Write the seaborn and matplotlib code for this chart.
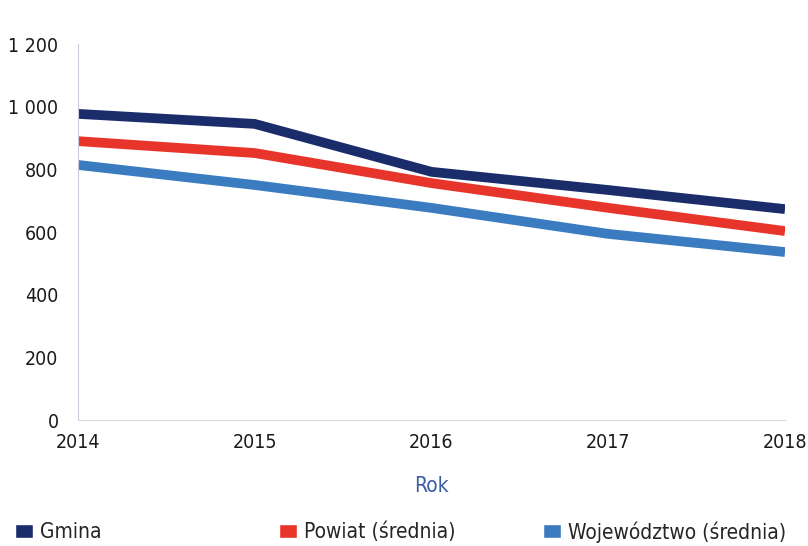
import numpy as np
import pandas as pd
import seaborn as sns
import matplotlib.pyplot as plt
from matplotlib.patches import Patch
from matplotlib.ticker import FuncFormatter

years = [2014, 2015, 2016, 2017, 2018]
gmina = [977, 945, 792, 734, 673]
powiat = [890, 852, 756, 677, 603]
wojewodztwo = [814, 750, 677, 594, 536]
series_names = ['Gmina', 'Powiat (średnia)', 'Województwo (średnia)']
colors = ['#1b2c6b', '#e8352b', '#3b7cc0']

df = pd.DataFrame({
    'Rok': years * 3,
    'value': gmina + powiat + wojewodztwo,
    'series': [series_names[0]] * 5 + [series_names[1]] * 5 + [series_names[2]] * 5,
})

sns.set_style('white')
plt.rcParams['font.family'] = ['DejaVu Sans']
plt.rcParams['font.stretch'] = 'condensed'

fig = plt.figure(figsize=(8.08, 5.46), dpi=100)
ax = fig.add_axes([78 / 808, 1 - 420 / 546, (785 - 78) / 808, (420 - 44) / 546])

sns.lineplot(data=df, x='Rok', y='value', hue='series', palette=colors,
             hue_order=series_names, linewidth=7, legend=False, ax=ax,
             solid_capstyle='butt')

ax.set_xlim(2014, 2018)
ax.set_ylim(0, 1200)
ax.set_xticks(years)
ax.set_yticks([0, 200, 400, 600, 800, 1000, 1200])
ax.yaxis.set_major_formatter(FuncFormatter(lambda v, p: '{:,}'.format(int(v)).replace(',', ' ')))
ax.tick_params(axis='both', length=0, labelsize=14, colors='#1a1a1a')
ax.tick_params(axis='x', pad=9)
ax.tick_params(axis='y', pad=14)
ax.set_ylabel('')
ax.set_xlabel('Rok', fontsize=15, color='#3b5fa6', labelpad=18)

for s in ['top', 'right']:
    ax.spines[s].set_visible(False)
ax.spines['left'].set_color('#c8cbe0')
ax.spines['bottom'].set_color('#d9d9d9')

# three legend entries at the reference's positions
legend_x = [15 / 808, 279 / 808, 543 / 808]
for c, n, x in zip(colors, series_names, legend_x):
    leg = fig.legend(handles=[Patch(facecolor=c, label=n)], loc='center left',
                     bbox_to_anchor=(x, 1 - 532 / 546), frameon=False, fontsize=15,
                     handlelength=0.85, handleheight=0.65, handletextpad=0.35,
                     borderpad=0, borderaxespad=0)

fig.savefig('out.png', dpi=100)
